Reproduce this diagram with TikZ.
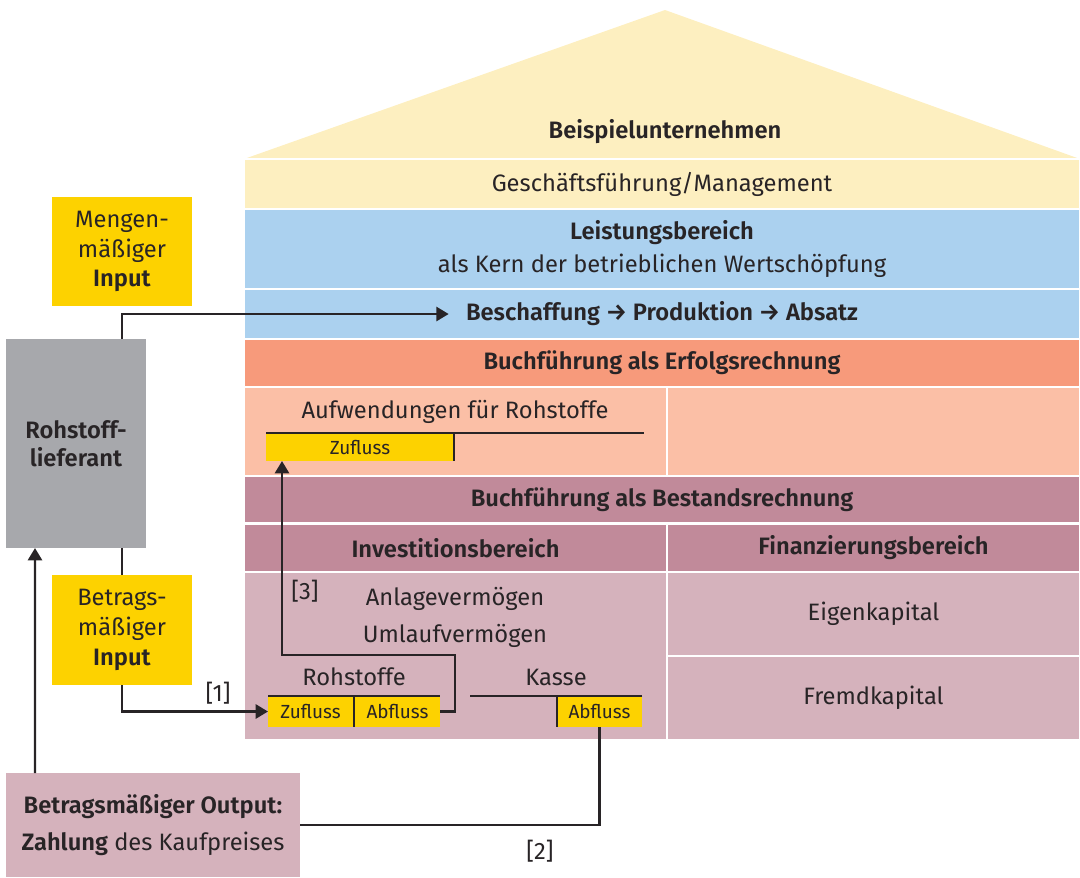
\documentclass[tikz,border=0pt]{standalone}
\usepackage{fontspec}
\setmainfont{Fira Sans}[BoldFont={Fira Sans SemiBold}]
\usetikzlibrary{arrows.meta,positioning,calc}
\definecolor{dach}{RGB}{253,239,192}
\definecolor{blau}{RGB}{171,209,239}
\definecolor{lachs}{RGB}{247,154,123}
\definecolor{lachshell}{RGB}{251,191,166}
\definecolor{mauve}{RGB}{193,138,154}
\definecolor{mauvehell}{RGB}{213,178,188}
\definecolor{gelb}{RGB}{253,210,0}
\definecolor{grau}{RGB}{167,168,172}
\definecolor{txt}{RGB}{40,36,38}
\tikzset{
	band/.style={
		rectangle, draw=white, line width=1.2pt, inner sep=0pt, outer sep=0pt,
		anchor=north west, align=center, text=txt
	},
	%
	sidebox/.style={
		rectangle, inner sep=0pt, outer sep=0pt, minimum width=2.8cm,
		align=center, text=txt
	},
	%
	konto/.style={
		rectangle, fill=gelb, inner sep=0pt, outer sep=0pt, minimum height=0.62cm,
		text=txt, font=\fontsize{10.8}{13}\selectfont
	},
	%
	label/.style={
		text=txt, inner sep=0pt
	},
	%
	flow/.style={line width=1.4pt, draw=txt},
	tline/.style={line width=1.6pt, draw=txt}
}

\begin{document}
\begin{tikzpicture}[font=\fontsize{13.5}{16}\selectfont]
    \useasboundingbox (0,0) rectangle (21.6,-17.54);
    % Dach und Bereiche
    \fill[dach] (4.88,-3.18) -- (13.3,-0.2) -- (21.6,-3.18) -- cycle;
    \node(firma)[label] at (13.3,-2.64) {\textbf{Beispielunternehmen}};
    \node(mgmt)[band, fill=dach, minimum width=16.72cm, minimum height=1cm] at (4.88,-3.18) {Geschäftsführung/Management};
    \node(leistung)[band, fill=blau, minimum width=16.72cm, minimum height=1.6cm] at (4.88,-4.18) {\textbf{Leistungsbereich}\\[3pt] als Kern der betrieblichen Wertschöpfung};
    \node(ablaufband)[band, fill=blau, minimum width=16.72cm, minimum height=1cm] at (4.88,-5.78) {};
    \node(ablauf)[label] at (ablaufband.center) {\textbf{Beschaffung → Produktion → Absatz}};
    \node(erfolg)[band, fill=lachs, minimum width=16.72cm, minimum height=0.96cm] at (4.88,-6.78) {\textbf{Buchführung als Erfolgsrechnung}};
    \node(aufwL)[band, fill=lachshell, minimum width=8.46cm, minimum height=1.78cm] at (4.88,-7.74) {};
    \node(aufwR)[band, fill=lachshell, minimum width=8.26cm, minimum height=1.78cm] at (13.34,-7.74) {};
    \node(bestand)[band, fill=mauve, minimum width=16.72cm, minimum height=0.95cm] at (4.88,-9.52) {\textbf{Buchführung als Bestandsrechnung}};
    \node(invest)[band, fill=mauve, minimum width=8.46cm, minimum height=0.97cm] at (4.88,-10.47) {\textbf{Investitionsbereich}};
    \node(finanz)[band, fill=mauve, minimum width=8.26cm, minimum height=0.97cm] at (13.34,-10.47) {\textbf{Finanzierungsbereich}};
    \node(vermoegen)[band, fill=mauvehell, minimum width=8.46cm, minimum height=3.36cm] at (4.88,-11.44) {};
    \node(eigen)[band, fill=mauvehell, minimum width=8.26cm, minimum height=1.68cm] at (13.34,-11.44) {Eigenkapital};
    \node(fremd)[band, fill=mauvehell, minimum width=8.26cm, minimum height=1.68cm] at (13.34,-13.12) {Fremdkapital};
    \node(anlage)[label, align=center] at (9.1,-12.34) {Anlagevermögen\\[5pt] Umlaufvermögen};
    % Konten
    \node(aufwTitel)[label] at (9.1,-8.24) {Aufwendungen für Rohstoffe};
    \node(aufwZu)[konto, minimum width=3.76cm, minimum height=0.56cm, anchor=north west] at (5.32,-8.66) {Zufluss};
    \draw[tline] (aufwZu.north west) -- ++(7.56,0);
    \draw[tline] (aufwZu.north east) -- (aufwZu.south east);
    \node(rohZu)[konto, minimum width=1.7cm, anchor=north west] at (5.36,-13.92) {Zufluss};
    \node(rohAb)[konto, minimum width=1.7cm, right=0.04cm of rohZu] {Abfluss};
    \node(rohTitel)[label] at (7.08,-13.54) {Rohstoffe};
    \draw[tline] (rohZu.north west) -- (rohAb.north east);
    \draw[tline] ($(rohZu.north east)!0.5!(rohAb.north west)$) -- ($(rohZu.south east)!0.5!(rohAb.south west)$);
    \node(kasseAb)[konto, minimum width=1.7cm, anchor=north west] at (11.14,-13.92) {Abfluss};
    \node(kasseTitel)[label] at (11.12,-13.54) {Kasse};
    \draw[tline] (kasseAb.north east) -- ++(-3.44,0);
    \draw[tline] (kasseAb.north west) -- (kasseAb.south west);
    % linke Seite
    \node(mengen)[sidebox, fill=gelb, minimum height=2.18cm] at (2.44,-5.03) {Mengen-\\[1pt] mäßiger\\[1pt] \textbf{Input}};
    \node(liefer)[sidebox, fill=grau, minimum height=4.18cm] at (1.52,-8.87) {\textbf{Rohstoff-}\\ \textbf{lieferant}};
    \node(betrags)[sidebox, fill=gelb, minimum height=2.2cm] at (2.44,-12.6) {Betrags-\\[1pt] mäßiger\\[1pt] \textbf{Input}};
    \node(output)[sidebox, fill=mauvehell, minimum width=5.88cm, minimum height=2.08cm] at (3.06,-16.5) {\textbf{Betragsmäßiger Output:}\\[5pt] \textbf{Zahlung} des Kaufpreises};
    % Flüsse
    \draw[flow, -{Triangle[length=7pt,width=8pt]}] (liefer.north -| mengen.south) |- ([xshift=-0.34cm]ablauf.west);
    \draw[flow] (liefer.south -| betrags.north) -- (betrags.north);
    \draw[flow, -{Triangle[length=7pt,width=8pt]}] (betrags.south) |- (rohZu.west);
    \draw[flow, -{Triangle[length=7pt,width=8pt]}] ([xshift=0.58cm]output.north west) -- ([xshift=0.58cm]liefer.south west);
    \draw[flow] (kasseAb.south) |- (output.east);
    \coordinate(knick) at (5.64,-13.1);
    \draw[flow, -{Triangle[length=7pt,width=8pt]}] (rohAb.east) -- ++(0.3,0) |- (knick) -- (knick |- aufwZu.south);
    \node(n1)[label] at (4.36,-13.86) {[1]};
    \node(n2)[label] at (10.8,-17.02) {[2]};
    \node(n3)[label] at (6.1,-11.82) {[3]};
\end{tikzpicture}
\end{document}
